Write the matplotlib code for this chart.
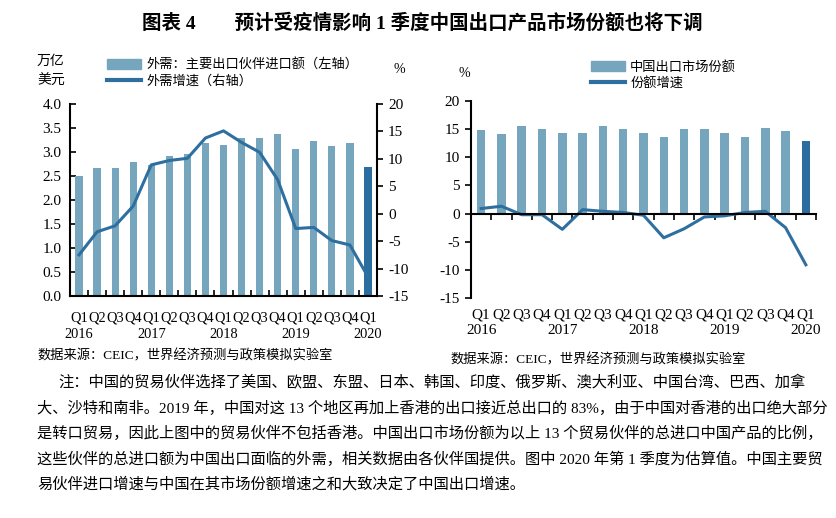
import matplotlib
matplotlib.use("Agg")
import matplotlib.pyplot as plt
import matplotlib.transforms as mtransforms
from matplotlib.patches import Patch
from matplotlib.lines import Line2D
import numpy as np

plt.rcParams['font.family'] = ['Liberation Serif', 'Noto Sans CJK SC']

quarters = ["Q1", "Q2", "Q3", "Q4", "Q1", "Q2", "Q3", "Q4", "Q1", "Q2", "Q3", "Q4",
            "Q1", "Q2", "Q3", "Q4", "Q1"]
years = ["2016", "", "", "", "2017", "", "", "", "2018", "", "", "", "2019", "", "", "", "2020"]

# left chart: external demand (trillion USD) and its growth (%)
demand = [2.50, 2.67, 2.67, 2.80, 2.73, 2.92, 2.96, 3.19, 3.15, 3.30, 3.30, 3.38,
          3.07, 3.23, 3.13, 3.19, 2.69]
demand_growth = [-7.5, -3.3, -2.2, 1.4, 8.9, 9.7, 10.1, 13.8, 15.1, 13.0, 11.2, 6.2,
                 -2.7, -2.5, -4.9, -5.7, -11.5]

# right chart: China's export market share (%) and its growth (%)
share = [14.8, 14.1, 15.5, 15.0, 14.3, 14.3, 15.5, 15.0, 14.3, 13.6, 15.0, 15.0,
         14.3, 13.6, 15.2, 14.6, 12.9]
share_growth = [0.9, 1.3, -0.2, -0.2, -2.8, 0.7, 0.4, 0.2, -0.3, -4.3, -2.7, -0.6,
                -0.4, 0.2, 0.4, -2.5, -9.1]

title = "图表 4　　预计受疫情影响 1 季度中国出口产品市场份额也将下调"
legend_left = ["外需：主要出口伙伴进口额（左轴）", "外需增速（右轴）"]
legend_right = ["中国出口市场份额", "份额增速"]
source = "数据来源：CEIC，世界经济预测与政策模拟实验室"
note_lines = [
    "注：中国的贸易伙伴选择了美国、欧盟、东盟、日本、韩国、印度、俄罗斯、澳大利亚、中国台湾、巴西、加拿",
    "大、沙特和南非。2019 年，中国对这 13 个地区再加上香港的出口接近总出口的 83%，由于中国对香港的出口绝大部分",
    "是转口贸易，因此上图中的贸易伙伴不包括香港。中国出口市场份额为以上 13 个贸易伙伴的总进口中国产品的比例，",
    "这些伙伴的总进口额为中国出口面临的外需，相关数据由各伙伴国提供。图中 2020 年第 1 季度为估算值。中国主要贸",
    "易伙伴进口增速与中国在其市场份额增速之和大致决定了中国出口增速。",
]

LIGHT = "#76A5BE"
DARK = "#2B6D9E"
LINE = "#2E6F9F"
W, H = 836, 518

fig = plt.figure(figsize=(8.36, 5.18), dpi=100)

def fx(px):
    return px / W

def fy(py):
    return 1 - py / H

x = np.arange(len(quarters))
bar_colors = [LIGHT] * (len(quarters) - 1) + [DARK]
tick_font = dict(fontsize=11)
cjk = ['Noto Sans CJK SC']


def category_labels(ax, q_off_px, y_off_px, size):
    trans = mtransforms.blended_transform_factory(ax.transData, ax.transAxes)
    h = ax.get_position().height * H
    for xi, q, y in zip(x, quarters, years):
        ax.text(xi, -q_off_px / h, q, transform=trans, ha='center', va='center',
                fontsize=size)
        if y:
            ax.text(xi, -y_off_px / h, y, transform=trans, ha='center', va='center',
                    fontsize=size)


# ---------------- left chart ----------------
axl = fig.add_axes([fx(70), fy(296), fx(377 - 70), fy(104) - fy(296)])
axr = axl.twinx()
axl.bar(x, demand, width=0.4, color=bar_colors, zorder=2)
axr.plot(x, demand_growth, color=LINE, lw=2.2, zorder=3)
axl.set_zorder(1)
axr.set_zorder(2)
axl.set_xlim(-0.5, len(x) - 0.5)
axl.set_ylim(0, 4.0)
axl.set_yticks(np.arange(0, 4.01, 0.5))
axl.set_yticklabels([f"{v:.1f}" for v in np.arange(0, 4.01, 0.5)], **tick_font)
axr.set_ylim(-15, 20)
axr.set_yticks(np.arange(-15, 21, 5))
axr.set_yticklabels([str(v) for v in range(-15, 21, 5)], **tick_font)
axl.set_xticks(x)
axl.set_xticklabels([])
axl.set_xticks(np.arange(-0.5, len(x), 1), minor=True)
axl.tick_params(axis='x', which='major', length=0)
axl.tick_params(axis='x', which='minor', length=4, direction='in', width=1.2)
axl.tick_params(axis='y', direction='in', length=4, width=1.2, pad=6)
axr.tick_params(axis='y', direction='out', length=4, width=1.2, pad=4)
for a in (axl, axr):
    a.spines['top'].set_visible(False)
    for s in ('left', 'right', 'bottom'):
        a.spines[s].set_linewidth(1.5)
axl.spines['right'].set_visible(False)
axr.spines['left'].set_visible(False)
axr.spines['bottom'].set_visible(False)
category_labels(axl, 22, 39, 10.4)

hl = [Patch(color=LIGHT), Line2D([], [], color=LINE, lw=3)]
fig.legend(hl, legend_left, loc='upper left', bbox_to_anchor=(fx(100), fy(52)),
           frameon=False, handlelength=2.6, handleheight=0.8, labelspacing=0.25,
           handletextpad=0.4, borderpad=0, prop={'family': cjk, 'size': 9.5})
fig.text(fx(37), fy(61), "万亿", fontsize=10, family=cjk, va='center')
fig.text(fx(37), fy(81), "美元", fontsize=10, family=cjk, va='center')
fig.text(fx(393), fy(69), "%", fontsize=10, va='center')

# ---------------- right chart ----------------
ax2 = fig.add_axes([fx(471), fy(298), fx(816 - 471), fy(101) - fy(298)])
ax2.bar(x, share, width=0.42, color=bar_colors, zorder=2)
ax2.plot(x, share_growth, color=LINE, lw=2.2, zorder=3)
ax2.set_xlim(-0.5, len(x) - 0.5)
ax2.set_ylim(-15, 20)
ax2.set_yticks(np.arange(-15, 21, 5))
ax2.set_yticklabels([str(v) for v in range(-15, 21, 5)], **tick_font)
ax2.spines['top'].set_visible(False)
ax2.spines['right'].set_visible(False)
ax2.spines['bottom'].set_position(('data', 0))
ax2.spines['bottom'].set_linewidth(1.5)
ax2.spines['left'].set_linewidth(1.5)
ax2.spines['bottom'].set_zorder(4)
ax2.set_xticks(x)
ax2.set_xticklabels([])
ax2.set_xticks(np.arange(-0.5, len(x), 1), minor=True)
ax2.tick_params(axis='x', which='major', length=0)
ax2.tick_params(axis='x', which='minor', length=4, direction='out', width=1.2)
ax2.tick_params(axis='y', direction='out', length=4, width=1.2, pad=4)
category_labels(ax2, 17, 33, 11)

hr = [Patch(color=LIGHT), Line2D([], [], color=LINE, lw=3)]
fig.legend(hr, legend_right, loc='upper left', bbox_to_anchor=(fx(584), fy(54)),
           frameon=False, handlelength=2.6, handleheight=0.8, labelspacing=0.25,
           handletextpad=0.4, borderpad=0, prop={'family': cjk, 'size': 9.5})
fig.text(fx(459), fy(74), "%", fontsize=10, va='center')

# ---------------- texts ----------------
fig.text(fx(422), fy(23), title, ha='center', va='center', fontsize=14,
         fontweight='bold')
fig.text(fx(37), fy(356), source, fontsize=9.5, va='center')
fig.text(fx(450), fy(360), source, fontsize=9.5, va='center')
ys = [383, 408, 433, 459, 484]
for i, (line, yy) in enumerate(zip(note_lines, ys)):
    fig.text(fx(58 if i == 0 else 37), fy(yy), line, fontsize=11, va='center')

fig.savefig("out.png", dpi=100)
